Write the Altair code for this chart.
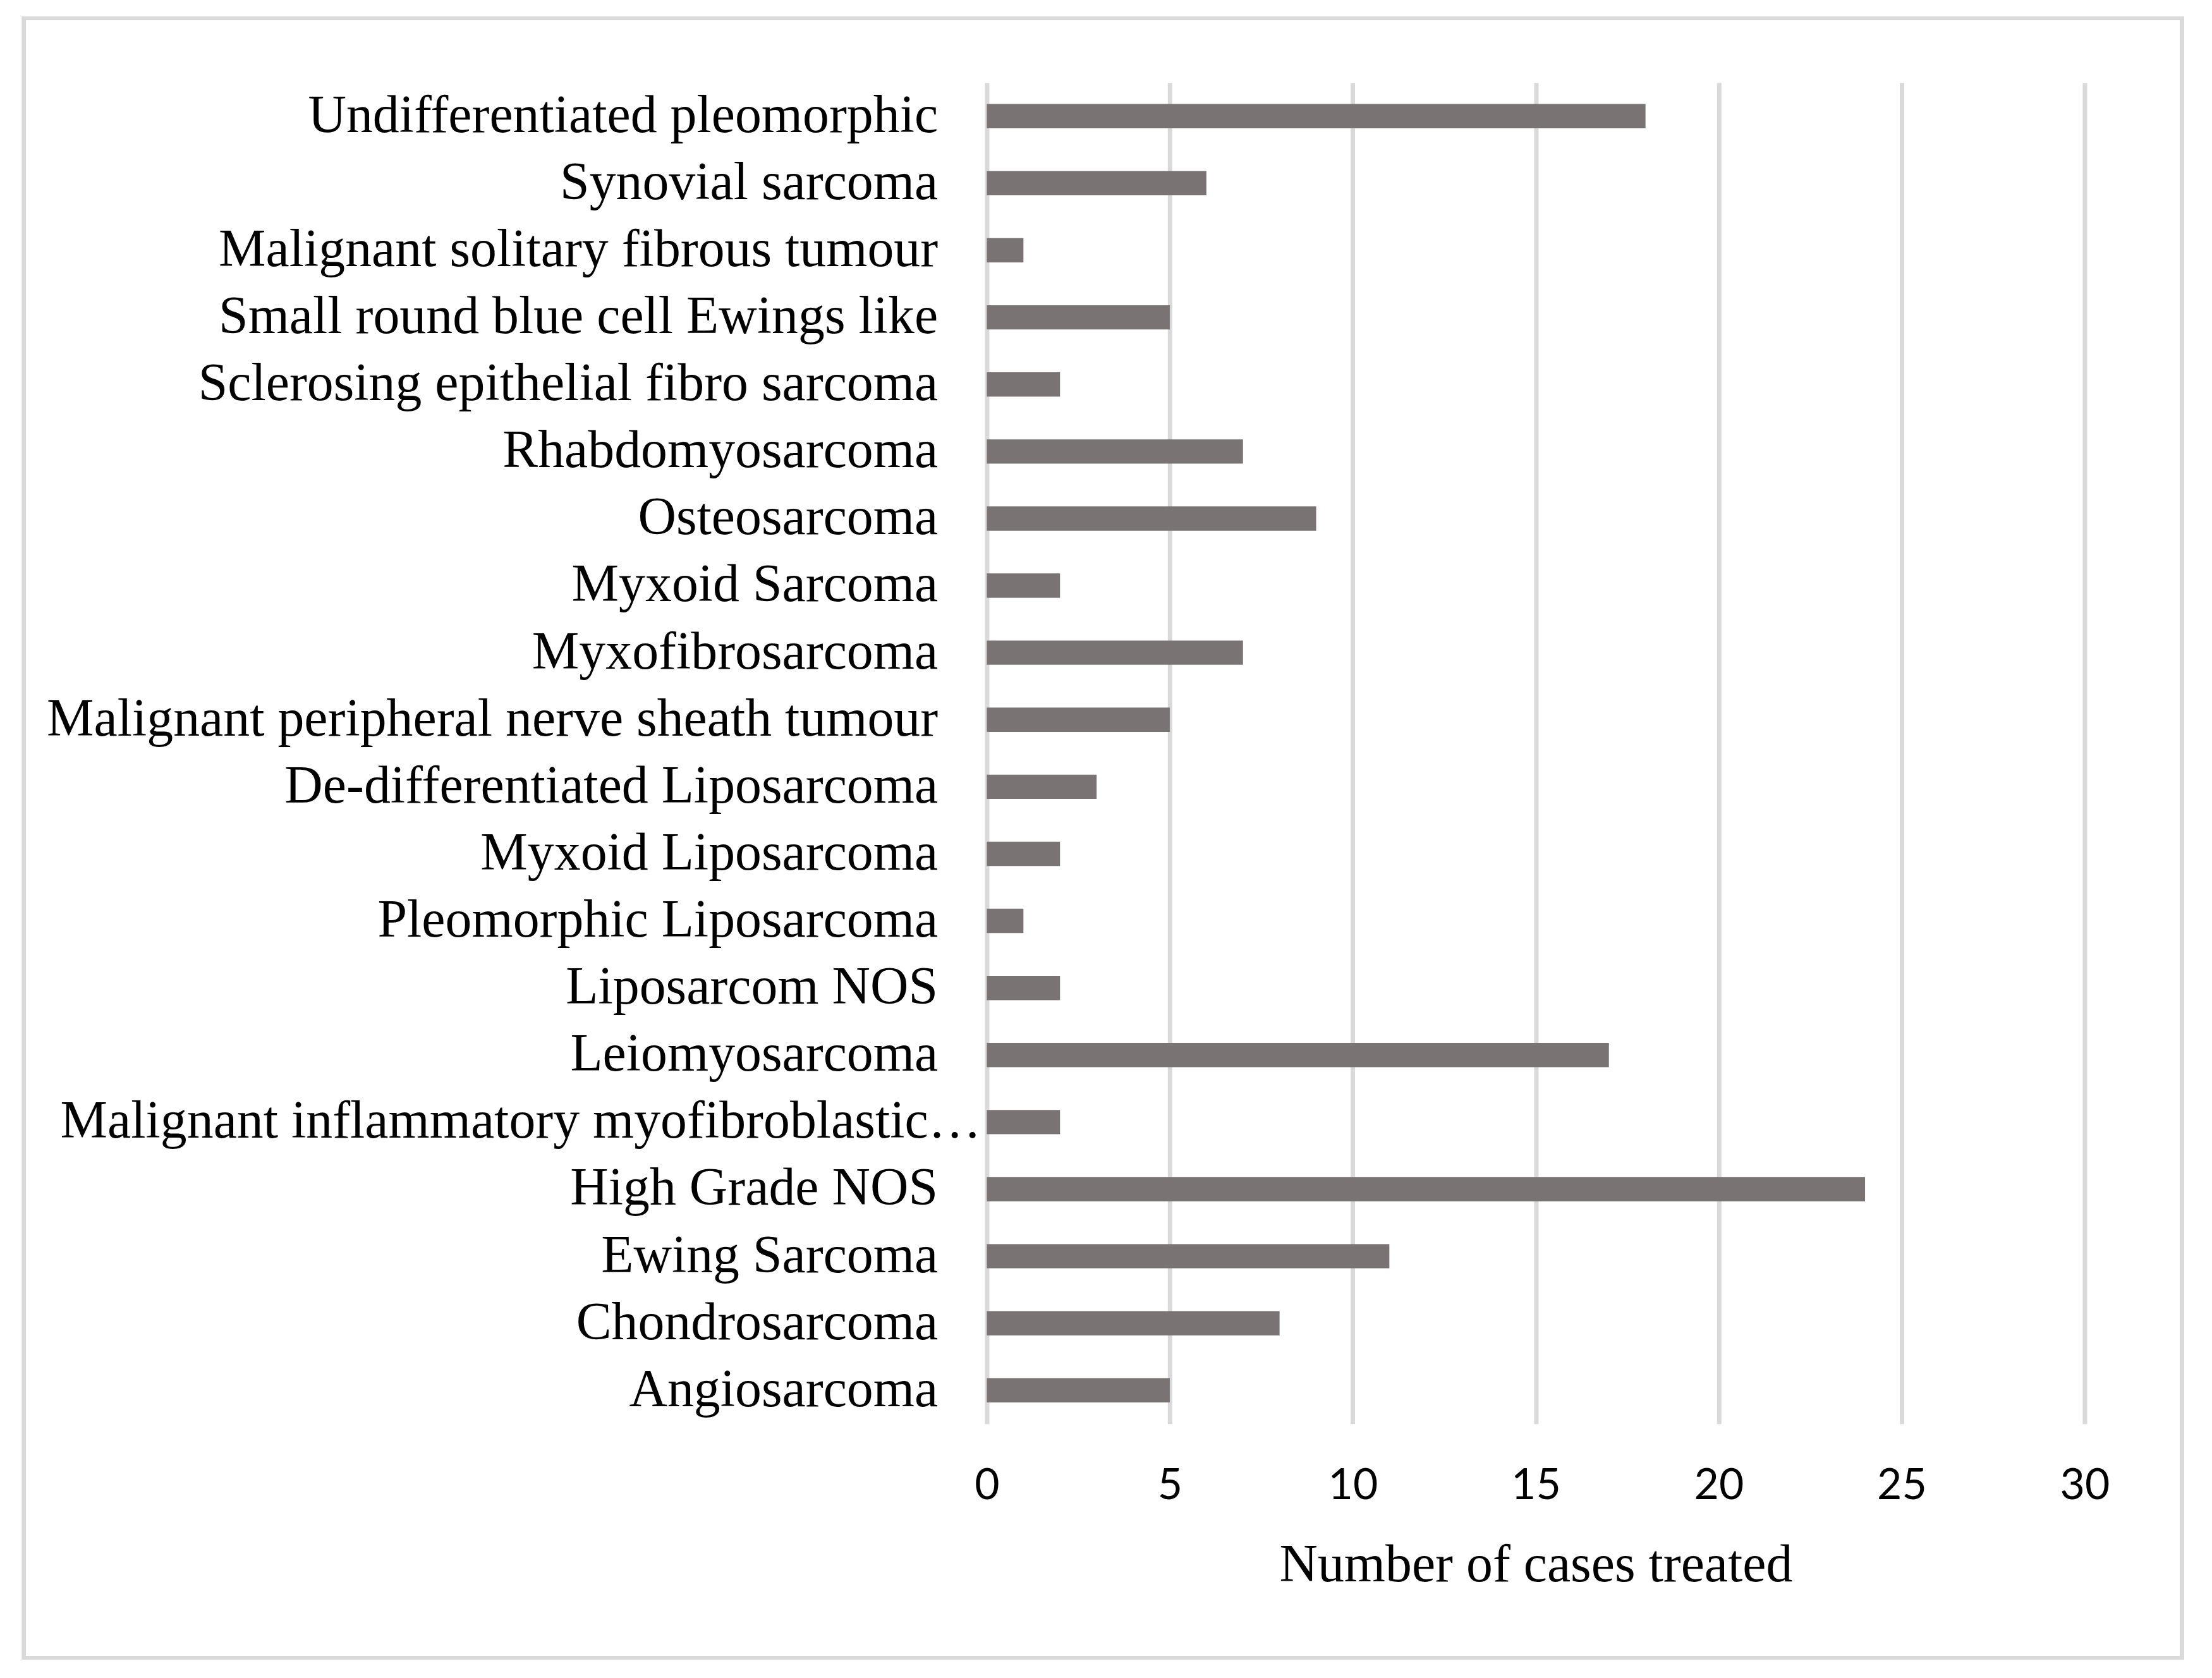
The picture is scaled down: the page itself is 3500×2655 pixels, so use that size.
import altair as alt
import pandas as pd

categories = [
    "Undifferentiated pleomorphic",
    "Synovial sarcoma",
    "Malignant solitary fibrous tumour",
    "Small round blue cell Ewings like",
    "Sclerosing epithelial fibro sarcoma",
    "Rhabdomyosarcoma",
    "Osteosarcoma",
    "Myxoid Sarcoma",
    "Myxofibrosarcoma",
    "Malignant peripheral nerve sheath tumour",
    "De-differentiated Liposarcoma",
    "Myxoid Liposarcoma",
    "Pleomorphic Liposarcoma",
    "Liposarcom NOS",
    "Leiomyosarcoma",
    "Malignant inflammatory myofibroblastic…",
    "High Grade NOS",
    "Ewing Sarcoma",
    "Chondrosarcoma",
    "Angiosarcoma",
]
cases = [18, 6, 1, 5, 2, 7, 9, 2, 7, 5, 3, 2, 1, 2, 17, 2, 24, 11, 8, 5]
x_ticks = [0, 5, 10, 15, 20, 25, 30]
truncated_label = "Malignant inflammatory myofibroblastic…"

df = pd.DataFrame({"type": categories, "cases": cases})

W, H = 1741, 2127
PL, PT, PR = 1557, 120, 194
PB = 2655 - 16 - PT - H

SERIF = "Liberation Serif"
FS = 84

y_enc = alt.Y(
    "type:N",
    sort=categories,
    scale=alt.Scale(paddingInner=0.638, paddingOuter=0.319),
    axis=alt.Axis(
        title=None,
        labelFont=SERIF,
        labelFontSize=FS,
        labelColor="#000000",
        labelPadding=78,
        labelLimit=2000,
        labelExpr="datum.value == '" + truncated_label + "' ? '' : datum.value",
        ticks=False,
        domain=False,
    ),
)

bars = alt.Chart(df).mark_bar(color="#797374").encode(
    y=y_enc,
    x=alt.X(
        "cases:Q",
        scale=alt.Scale(domain=[0, 30], nice=False),
        axis=alt.Axis(
            values=x_ticks,
            title="Number of cases treated",
            titleFont=SERIF,
            titleFontSize=FS,
            titleFontWeight="normal",
            titleColor="#000000",
            titlePadding=50,
            labelFont="Lato",
            labelFontSize=68,
            labelColor="#000000",
            labelPadding=65,
            labelFlush=False,
            grid=True,
            gridColor="#d9d9d9",
            gridWidth=7,
            ticks=False,
            domain=False,
        ),
    ),
)

long_label = alt.Chart(df).transform_filter(
    alt.datum.type == truncated_label
).mark_text(
    font=SERIF, fontSize=FS, color="#000000", align="right", baseline="middle"
).encode(
    y=alt.Y("type:N", sort=categories),
    x=alt.value(-9),
    text="type:N",
)

frame = alt.Chart(df).mark_rect(
    fill=None, stroke="#d9d9d9", strokeWidth=6, clip=False
).encode(
    x=alt.value(-1527),
    x2=alt.value(1895),
    y=alt.value(-102),
    y2=alt.value(2498),
)

chart = alt.layer(frame, bars, long_label).properties(
    width=W,
    height=H,
    autosize=alt.AutoSizeParams(type="none"),
    padding={"left": PL, "top": PT, "right": PR, "bottom": PB},
    background="white",
).configure_view(stroke=None)

chart.save("out.html", embed_options={"renderer": "svg", "actions": False})
